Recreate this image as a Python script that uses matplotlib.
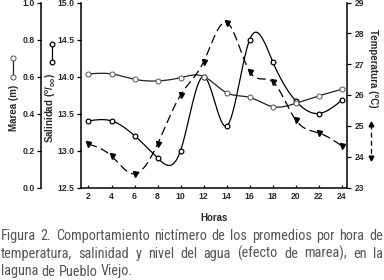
import numpy as np
import matplotlib
matplotlib.use('Agg')
import matplotlib.pyplot as plt
from matplotlib import font_manager
from matplotlib.lines import Line2D

# ---- data ----
hours = [2, 4, 6, 8, 10, 12, 14, 16, 18, 20, 22, 24]
marea = [0.614, 0.614, 0.585, 0.576, 0.594, 0.600, 0.512, 0.487, 0.437, 0.455, 0.495, 0.531]
salinidad = [13.40, 13.40, 13.20, 12.90, 13.00, 14.00, 13.33, 14.50, 14.20, 13.67, 13.50, 13.68]
temperatura = [24.41, 24.02, 23.44, 24.41, 26.00, 27.08, 28.35, 26.76, 26.43, 25.19, 24.77, 24.35]
x_ticks = hours
marea_ticks = [0.0, 0.2, 0.4, 0.6, 0.8, 1.0]
sal_ticks = [12.5, 13.0, 13.5, 14.0, 14.5, 15.0]
temp_ticks = [23, 24, 25, 26, 27, 28, 29]
caption_lines = [
    "Figura 2. Comportamiento nictímero de los promedios por hora de",
    "temperatura, salinidad y nivel del agua (efecto de marea), en la",
    "laguna de Pueblo Viejo.",
]


def have(name):
    try:
        font_manager.findfont(font_manager.FontProperties(family=name), fallback_to_default=False)
        return True
    except Exception:
        return False


def smooth(x, y, n=400):
    x = np.asarray(x, float); y = np.asarray(y, float)
    k = len(x); h = np.diff(x)
    A = np.zeros((k, k)); b = np.zeros(k)
    A[0, 0] = A[-1, -1] = 1
    for i in range(1, k - 1):
        A[i, i - 1] = h[i - 1]; A[i, i] = 2 * (h[i - 1] + h[i]); A[i, i + 1] = h[i]
        b[i] = 3 * ((y[i + 1] - y[i]) / h[i] - (y[i] - y[i - 1]) / h[i - 1])
    c = np.linalg.solve(A, b)
    xs = np.linspace(x[0], x[-1], n)
    idx = np.clip(np.searchsorted(x, xs) - 1, 0, k - 2)
    dx = xs - x[idx]
    bb = (y[1:] - y[:-1]) / h - h * (2 * c[:-1] + c[1:]) / 3
    d = (c[1:] - c[:-1]) / (3 * h)
    return xs, y[idx] + bb[idx] * dx + c[idx] * dx ** 2 + d[idx] * dx ** 3


W, H = 384, 280
bold_font = 'Liberation Sans' if have('Liberation Sans') else 'DejaVu Sans'
plt.rcParams['font.family'] = [bold_font, 'DejaVu Sans']
plt.rcParams['mathtext.fontset'] = 'custom'
plt.rcParams['mathtext.bf'] = bold_font + ':bold'
plt.rcParams['mathtext.rm'] = bold_font + ':bold'
tcol = '#2a2a2a'
tsize = 6.2

fig = plt.figure(figsize=(W / 100, H / 100), dpi=100)
L, R, T, B = 81, 347, 2.5, 187.5
ax = fig.add_axes([L / W, 1 - B / H, (R - L) / W, (B - T) / H])
ax.set_xlim(1.35, 24.45)
ax.set_ylim(12.5, 15.0)
for s in ['top', 'right']:
    ax.spines[s].set_visible(False)
for s in ['left', 'bottom']:
    ax.spines[s].set_linewidth(1.1)
ax.set_xticks(x_ticks)
ax.set_yticks(sal_ticks)
ax.set_yticklabels([f'{v:.1f}' for v in sal_ticks])
ax.tick_params(axis='x', direction='in', length=2.5, width=0.9, labelsize=tsize, pad=3, labelcolor=tcol)
ax.tick_params(axis='y', direction='out', length=3, width=0.9, labelsize=tsize, pad=1.5, labelcolor=tcol)
for lab in ax.get_xticklabels() + ax.get_yticklabels():
    lab.set_fontweight('bold')
ax.set_xlabel('Horas', fontsize=7, fontweight='bold', color=tcol, labelpad=9)

# marea axis (offset left)
axm = ax.twinx()
axm.set_ylim(0, 1.0)
for s in ['top', 'right', 'bottom']:
    axm.spines[s].set_visible(False)
axm.spines['left'].set_visible(True)
axm.spines['left'].set_position(('axes', -40 / (R - L)))
axm.spines['left'].set_linewidth(1.1)
axm.yaxis.set_ticks_position('left')
axm.set_yticks(marea_ticks)
axm.set_yticklabels([f'{v:.1f}' for v in marea_ticks])
axm.tick_params(axis='y', direction='out', length=3, width=0.9, labelsize=tsize, pad=1.5, labelcolor=tcol)
for lab in axm.get_yticklabels():
    lab.set_fontweight('bold')

# temperature axis (right)
axt = ax.twinx()
axt.set_ylim(23, 29)
for s in ['top', 'left', 'bottom']:
    axt.spines[s].set_visible(False)
axt.spines['right'].set_linewidth(1.1)
axt.set_yticks(temp_ticks)
axt.tick_params(axis='y', direction='out', length=3, width=0.9, labelsize=tsize, pad=2.5, labelcolor=tcol)
for lab in axt.get_yticklabels():
    lab.set_fontweight('bold')

# series
xs, ys = smooth(hours, marea)
axm.plot(xs, ys, color='#222222', lw=0.9, zorder=2)
axm.plot(hours, marea, ls='none', marker='o', ms=3.6, mfc='white', mec='#666666', mew=0.8, zorder=3)

xs, ys = smooth(hours, salinidad)
ax.plot(xs, ys, color='black', lw=0.9, zorder=2)
ax.plot(hours, salinidad, ls='none', marker='o', ms=3.4, mfc='white', mec='black', mew=0.9, zorder=3)

xs, ys = smooth(hours, temperatura)
axt.plot(xs, ys, color='black', lw=0.9, dashes=(7, 3.5), zorder=2)
axt.plot(hours, temperatura, ls='none', marker='v', ms=3.6, mfc='black', mec='black', zorder=3)


def fx(x):
    return x / W


def fy(y):
    return 1 - y / H


# axis titles
fig.text(fx(14), fy(108), 'Marea (m)', rotation=90, ha='center', va='center',
         fontsize=7, fontweight='bold', color=tcol)
fig.text(fx(51), fy(108), r'Salinidad ($^{\mathbf{o}}$/$_{\mathbf{oo}}$)', rotation=90,
         ha='center', va='center', fontsize=7, fontweight='bold', color=tcol)
fig.text(fx(373), fy(68), 'Temperatura (°C)', rotation=270, ha='center', va='center',
         fontsize=7, fontweight='bold', color=tcol)

# legend keys
fig.add_artist(Line2D([fx(13), fx(13)], [fy(58), fy(77)], color='#222222', lw=0.9,
                      marker='o', ms=3.6, mfc='white', mec='#666666', mew=0.8))
fig.add_artist(Line2D([fx(52), fx(52)], [fy(44), fy(62)], color='black', lw=0.9,
                      marker='o', ms=3.4, mfc='white', mec='black', mew=0.9))
fig.add_artist(Line2D([fx(370.5), fx(370.5)], [fy(124), fy(158)], color='black', lw=0.9,
                      dashes=(4, 2.5)))
fig.add_artist(Line2D([fx(370.5)], [fy(124)], ls='none', marker='^', ms=3.4, color='black'))
fig.add_artist(Line2D([fx(370.5)], [fy(158)], ls='none', marker='v', ms=3.4, color='black'))

# caption (justified)
cap_font = next((f for f in ['Liberation Sans Narrow', 'DejaVu Sans Condensed', 'Roboto Condensed', 'Roboto']
                 if have(f)), 'DejaVu Sans')
cap_size = 10.3
cap_col = '#555555'
renderer = fig.canvas.get_renderer()
line_base = [240, 258, 275.5]
x0, x1 = 1, 383
fam = [cap_font, 'DejaVu Sans']
t1 = fig.text(0, 0, 'a b', fontsize=cap_size, family=fam)
t2 = fig.text(0, 0, 'ab', fontsize=cap_size, family=fam)
sp = t1.get_window_extent(renderer).width - t2.get_window_extent(renderer).width
t1.remove(); t2.remove()
for li, (line, yy) in enumerate(zip(caption_lines, line_base)):
    words = line.split(' ')
    texts = [fig.text(0, fy(yy), w, fontsize=cap_size, family=fam, color=cap_col,
                      ha='left', va='baseline') for w in words]
    widths = [t.get_window_extent(renderer).width for t in texts]
    if li < len(caption_lines) - 1:
        gap = max((x1 - x0 - sum(widths)) / (len(words) - 1), 0.5 * sp)
    else:
        gap = sp
    xpos = x0
    for t, w in zip(texts, widths):
        t.set_x(fx(xpos))
        xpos += w + gap

fig.savefig('out.png', dpi=100)
